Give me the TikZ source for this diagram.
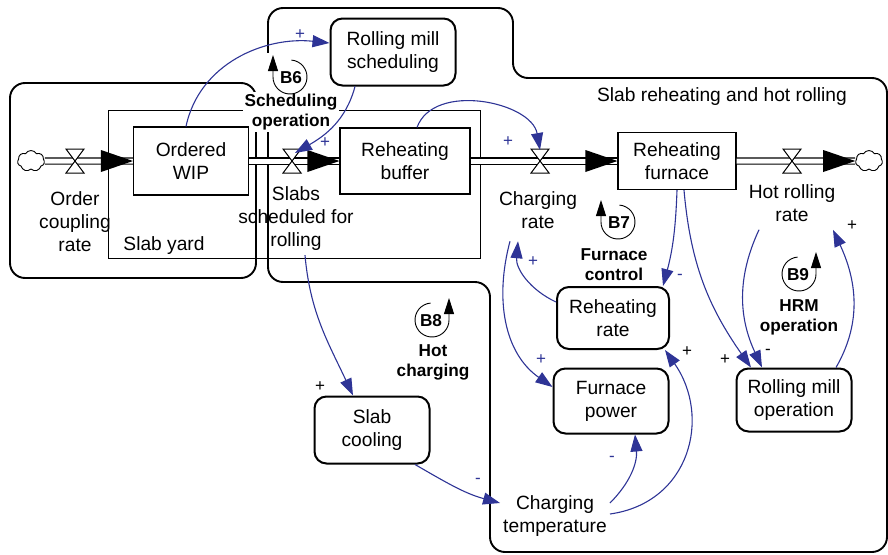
\documentclass[tikz,border=0pt]{standalone}
\usepackage{fontspec}
\setmainfont{Liberation Sans}
\usetikzlibrary{arrows.meta,shapes.symbols}
\definecolor{linkblue}{RGB}{46,52,150}
\newcommand\lblfont{\fontsize{19.2}{23}\selectfont}
\newcommand\loopfont{\fontsize{17.2}{20}\selectfont\bfseries}
\newcommand\signfont{\fontsize{17}{17}\selectfont}

\begin{document}
\begin{tikzpicture}[x=1pt,y=1pt,
    stock/.style={draw,fill=white,line width=1.1pt,align=center,font=\lblfont,inner sep=0pt},
    aux/.style={draw,fill=white,line width=2pt,rounded corners=12pt,align=center,font=\lblfont,inner sep=0pt},
    flowname/.style={align=center,font=\lblfont,inner sep=3pt},
    loopname/.style={align=center,font=\loopfont,inner sep=2pt},
    pipe/.style={double,double distance=5pt,line width=1.2pt},
    link/.style={linkblue,line width=1.1pt,-{Triangle[length=17pt,width=12pt]}},
    sign/.style={font=\signfont,inner sep=0pt},
    region/.style={line width=1.9pt,rounded corners=15pt},
    cloudy/.style={cloud,draw,fill=white,cloud puffs=7,cloud puff arc=120,aspect=1.3,
      minimum width=27pt,minimum height=21pt,inner sep=0pt,line width=0.9pt},
    valve/.pic={\draw[fill=white,line width=1pt] (-9,12) -- (9,12) -- (-9,-12) -- (9,-12) -- cycle;},
    loopcw/.pic={\draw[line width=0.9pt,-{Triangle[length=16pt,width=10pt]}]
        (85:17) arc[start angle=85,end angle=-180,radius=17] -- ++(0,22);
      \node[font=\loopfont] (tag) at (1,-1) {#1};},
    loopccw/.pic={\draw[line width=0.9pt,-{Triangle[length=16pt,width=10pt]}]
        (95:17) arc[start angle=95,end angle=360,radius=17] -- ++(0,22);
      \node[font=\loopfont] (tag) at (-1,-1) {#1};}
  ]
    \useasboundingbox (0,0) rectangle (888,-554);

    % sector boundaries
    \draw[region] (10,-83) rectangle (256,-278);
    \draw[region] (268,-282) -- (268,-8) -- (513,-8) -- (513,-78) -- (887,-78)
        -- (887,-552) -- (490,-552) -- (490,-282) -- cycle;
    \draw[line width=1pt] (108,-110) rectangle (480,-258);
    \fill[white] (262,-53) rectangle (275,-96);

    % sector and loop names
    \node[loopname,fill=white] (schedop) at (291,-112) {Scheduling\\operation};
    \node[flowname] (yard) at (164,-246) {Slab yard};
    \node[flowname] (hotroll) at (722,-97) {Slab reheating and hot rolling};
    \node[loopname] (furnctl) at (614,-265) {Furnace\\control};
    \node[loopname] (hotchg) at (433,-362) {Hot\\charging};
    \node[loopname] (hrmop) at (799,-317) {HRM\\operation};

    % stocks and flows
    \node[cloudy] (srcL) at (31,-161) {};
    \node[cloudy] (sinkR) at (869,-161) {};
    \node[stock,minimum width=115pt,minimum height=68pt] (wip) at (191,-161) {Ordered\\WIP};
    \node[stock,minimum width=130pt,minimum height=66pt] (buf) at (405,-161) {Reheating\\buffer};
    \node[stock,minimum width=118pt,minimum height=57pt] (furn) at (677,-161) {Reheating\\furnace};

    \draw[pipe] (srcL) -- (wip);
    \draw[pipe] (wip) -- (buf);
    \draw[pipe] (buf) -- (furn);
    \draw[pipe] (furn) -- (sinkR);
    \foreach \t in {wip,buf,furn,sinkR}
        \fill (\t.west) -- ++(-32,11) -- ++(0,-22) -- cycle;
    \foreach \v/\x in {v1/75,v2/292,v3/540,v4/792}{
        \coordinate (\v) at (\x,-161);
        \pic at (\v) {valve};
    }

    \node[flowname] (ocr) at (75,-222) {Order\\coupling\\rate};
    \node[flowname] (ssr) at (296,-219) {Slabs\\scheduled for\\rolling};
    \node[flowname] (cr) at (538,-210.5) {Charging\\rate};
    \node[flowname] (hrr) at (792,-203) {Hot rolling\\rate};

    % auxiliaries
    \node[aux,minimum width=125pt,minimum height=67pt] (rms) at (393,-52) {Rolling mill\\scheduling};
    \node[aux,minimum width=112pt,minimum height=62pt] (rr) at (613,-318) {Reheating\\rate};
    \node[aux,minimum width=115pt,minimum height=65pt] (fp) at (611,-401) {Furnace\\power};
    \node[aux,minimum width=115pt,minimum height=67pt] (cool) at (372,-430) {Slab\\cooling};
    \node[aux,minimum width=115pt,minimum height=63pt] (rmo) at (794,-400) {Rolling mill\\operation};
    \node[flowname] (ct) at (555,-516) {Charging\\temperature};

    % causal links
    \draw[link] ([xshift=-5pt]wip.north) to[out=78,in=174] ([yshift=9pt]rms.west);
    \draw[link] ([xshift=-38pt]rms.south) to[out=-105,in=30] ([xshift=3pt,yshift=8pt]v2);
    \draw[link] ([xshift=12pt]buf.north) to[out=70,in=100] ([yshift=11pt]v3);
    \draw[link] (furn.south) to[out=-92,in=75] ([xshift=50pt]rr.north);
    \draw[link] ([xshift=7pt]furn.south) to[out=-85,in=125] ([xshift=-43pt]rmo.north);
    \draw[link] ([xshift=-33pt,yshift=-5pt]hrr.south) to[out=-115,in=115] ([xshift=-32pt]rmo.north);
    \draw[link] ([xshift=42pt]rmo.north) to[out=60,in=-65] ([xshift=41pt,yshift=-5pt]hrr.south);
    \draw[link] ([yshift=16pt]rr.west) to[out=155,in=-95] ([xshift=-20pt,yshift=-9pt]cr.south);
    \draw[link] ([xshift=-28pt,yshift=-9pt]cr.south) to[out=-105,in=145] ([yshift=14pt]fp.west);
    \draw[link] ([xshift=9pt,yshift=-1pt]ssr.south) to[out=-85,in=115] ([xshift=-19pt]cool.north);
    \draw[link] ([xshift=43pt]cool.south) to[out=-30,in=165] ([yshift=13pt]ct.west);
    \draw[link] ([yshift=13pt]ct.east) to[out=45,in=-85] ([xshift=24pt]fp.south);
    \draw[link] ([yshift=2pt]ct.east) to[out=8,in=-55,looseness=1.2] ([xshift=52pt]rr.south);

    % polarities
    \node[sign,linkblue] (s1) at (300,-35) {+};
    \node[sign,linkblue] (s2) at (325,-143) {+};
    \node[sign,linkblue] (s3) at (508,-142) {+};
    \node[sign,linkblue] (s4) at (680,-277) {-};
    \node[sign] (s5) at (725,-360) {+};
    \node[sign] (s6) at (768,-352) {-};
    \node[sign] (s7) at (852,-226) {+};
    \node[sign,linkblue] (s8) at (533,-262) {+};
    \node[sign,linkblue] (s9) at (541,-360) {+};
    \node[sign] (s10) at (320,-387) {+};
    \node[sign,linkblue] (s11) at (478,-481) {-};
    \node[sign,linkblue] (s12) at (612,-459) {-};
    \node[sign] (s13) at (687,-352) {+};

    % loop markers
    \pic (b6) at (290,-77) {loopcw=B6};
    \pic (b7) at (618,-222) {loopcw=B7};
    \pic (b8) at (432,-320) {loopccw=B8};
    \pic (b9) at (799,-274) {loopccw=B9};
\end{tikzpicture}
\end{document}
